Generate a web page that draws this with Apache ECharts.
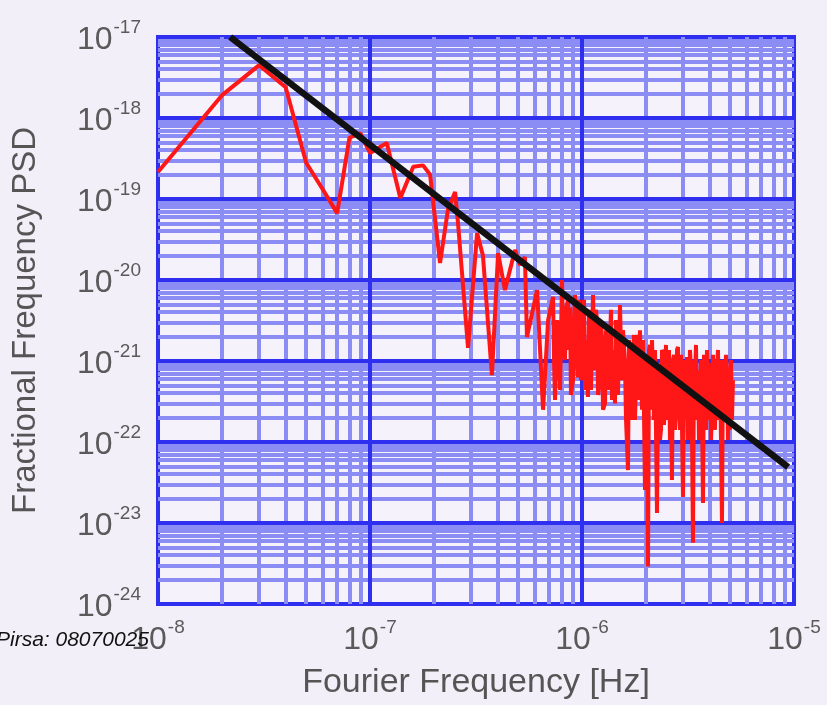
<!DOCTYPE html>
<html>
<head>
<meta charset="utf-8">
<script src="https://cdn.jsdelivr.net/npm/echarts@6/dist/echarts.min.js"></script>
<style>
  html, body { margin: 0; padding: 0; background: #f3eff9; }
  #chart { width: 827px; height: 705px; }
</style>
</head>
<body>
<div id="chart"></div>
<script>
// measured PSD (red trace): frequency [Hz] and fractional frequency PSD
const freqHz = [
  1.0e-8, 2.0e-8, 3.0e-8, 4.0e-8, 5.0e-8, 6.0e-8, 7.0e-8, 8.0e-8, 9.0e-8, 1.0e-7,
  1.1e-7, 1.2e-7, 1.39e-7, 1.60e-7, 1.78e-7, 1.92e-7, 2.14e-7, 2.33e-7, 2.52e-7, 2.60e-7,
  2.90e-7, 3.20e-7, 3.41e-7, 3.76e-7, 4.02e-7, 4.33e-7, 4.83e-7, 5.10e-7, 5.38e-7, 5.50e-7,
  6.14e-7, 6.55e-7, 6.92e-7,
  7.30e-7, 7.38e-7, 7.46e-7, 7.63e-7, 7.71e-7, 7.88e-7, 8.05e-7, 8.14e-7, 8.31e-7, 8.40e-7,
  8.59e-7, 8.68e-7, 8.78e-7, 8.87e-7, 9.07e-7, 9.17e-7, 9.27e-7, 9.37e-7, 9.57e-7, 9.68e-7,
  9.79e-7, 9.89e-7, 1.000e-6, 1.022e-6, 1.033e-6, 1.044e-6, 1.067e-6, 1.079e-6, 1.091e-6, 1.103e-6,
  1.127e-6, 1.139e-6, 1.152e-6, 1.164e-6, 1.177e-6, 1.190e-6, 1.216e-6, 1.229e-6, 1.243e-6, 1.256e-6,
  1.284e-6, 1.298e-6, 1.312e-6, 1.327e-6, 1.355e-6, 1.370e-6, 1.385e-6, 1.400e-6, 1.431e-6, 1.447e-6,
  1.462e-6, 1.478e-6, 1.511e-6, 1.528e-6, 1.544e-6, 1.561e-6, 1.595e-6, 1.613e-6, 1.648e-6, 1.666e-6,
  1.684e-6, 1.703e-6, 1.740e-6, 1.759e-6, 1.778e-6, 1.798e-6, 1.817e-6, 1.837e-6, 1.877e-6, 1.898e-6,
  1.919e-6, 1.940e-6, 1.982e-6, 2.004e-6, 2.026e-6, 2.048e-6, 2.070e-6, 2.093e-6, 2.116e-6, 2.139e-6,
  2.162e-6, 2.186e-6, 2.210e-6, 2.258e-6, 2.283e-6, 2.308e-6, 2.333e-6, 2.358e-6, 2.384e-6, 2.410e-6,
  2.436e-6, 2.463e-6, 2.490e-6, 2.517e-6, 2.545e-6, 2.572e-6, 2.600e-6, 2.629e-6, 2.657e-6, 2.686e-6,
  2.716e-6, 2.746e-6, 2.776e-6, 2.806e-6, 2.836e-6, 2.867e-6, 2.899e-6, 2.930e-6, 2.995e-6, 3.027e-6,
  3.060e-6, 3.094e-6, 3.128e-6, 3.162e-6, 3.196e-6, 3.231e-6, 3.267e-6, 3.302e-6, 3.338e-6, 3.375e-6,
  3.411e-6, 3.449e-6, 3.486e-6, 3.524e-6, 3.563e-6, 3.602e-6, 3.641e-6, 3.681e-6, 3.721e-6, 3.762e-6,
  3.803e-6, 3.844e-6, 3.886e-6, 3.929e-6, 3.972e-6, 4.015e-6, 4.059e-6, 4.103e-6, 4.148e-6, 4.193e-6,
  4.239e-6, 4.285e-6, 4.332e-6, 4.380e-6, 4.428e-6, 4.476e-6, 4.525e-6, 4.574e-6, 4.624e-6, 4.674e-6,
  4.725e-6, 4.777e-6, 4.829e-6, 4.882e-6, 4.935e-6, 4.989e-6, 5.044e-6, 5.099e-6, 5.154e-6
];
const psdValues = [
  2.15e-19, 1.9e-18, 4.5e-18, 2.4e-18, 2.8e-19, 1.3e-19, 6.7e-20, 5.7e-19, 6.5e-19, 3.7e-19,
  4.3e-19, 4.9e-19, 1.03e-19, 2.5e-19, 2.6e-19, 2.0e-19, 1.62e-20, 7.3e-20, 1.22e-19, 5.1e-20,
  1.45e-21, 3.8e-20, 2.0e-20, 6.7e-22, 2.15e-20, 7.5e-21, 2.35e-20, 1.53e-20, 1.92e-20, 1.98e-21,
  7.5e-21, 2.5e-22, 3.2e-21,
  6.2e-21, 1.03e-21, 3.3e-22, 3.2e-21, 2.4e-21, 4.4e-22, 1.0e-20, 1.82e-21, 1.03e-21, 4.3e-21,
  5.7e-21, 1.37e-21, 4.6e-21, 3.8e-22, 5.8e-22, 3.2e-21, 6.5e-21, 1.37e-21, 6.3e-22, 5.7e-21,
  3.2e-21, 5.8e-22, 2.6e-21, 5.7e-21, 4.4e-22, 1.82e-21, 3.6e-22, 4.3e-21, 2.4e-21, 4.4e-22,
  6.5e-21, 1.82e-21, 7.7e-22, 4.3e-21, 3.2e-21, 3.8e-22, 6.3e-22, 3.2e-21, 1.82e-21, 2.5e-22,
  3.0e-22, 2.4e-21, 2.4e-21, 4.4e-22, 1.67e-21, 4.3e-21, 3.3e-22, 1.37e-21, 3.0e-22, 3.2e-21,
  1.82e-21, 3.8e-22, 4.9e-21, 1.37e-21, 5.8e-22, 2.4e-21, 9.45e-22, 1.87e-22, 4.5e-23, 1.82e-21,
  1.37e-21, 1.87e-22, 9.45e-22, 2.1e-21, 1.87e-22, 5.8e-22, 2.1e-21, 3.3e-22, 2.4e-21, 7.7e-22,
  2.5e-22, 1.82e-21, 2.55e-23, 1.03e-21, 1.87e-22, 2.9e-24, 1.37e-21, 1.58e-21, 2.5e-22, 1.82e-21,
  5.8e-22, 1.87e-22, 1.37e-21, 1.33e-23, 3.3e-22, 8.9e-22, 1.06e-22, 1.41e-22, 1.37e-21, 1.26e-21,
  1.62e-22, 3.3e-22, 1.58e-21, 1.87e-22, 4.4e-22, 1.37e-21, 1.06e-22, 5.8e-22, 3.4e-23, 1.03e-21,
  1.19e-21, 1.41e-22, 2.5e-22, 1.37e-21, 1.49e-21, 3.3e-22, 1.41e-22, 1.19e-21, 2.1e-23, 5.8e-22,
  1.03e-21, 1.87e-22, 1.12e-21, 1.06e-22, 1.87e-22, 1.37e-21, 7.7e-22, 1.41e-22, 5.7e-24, 1.03e-21,
  5.8e-22, 1.58e-21, 1.87e-22, 7.7e-22, 1.06e-22, 1.41e-22, 1.03e-21, 2.5e-22, 1.77e-23, 1.19e-21,
  6.7e-22, 1.41e-22, 1.37e-21, 1.87e-22, 5.8e-22, 9.45e-22, 1.06e-22, 2.5e-22, 1.19e-21, 3.3e-22,
  1.41e-22, 1.03e-21, 7.7e-22, 1.37e-21, 1.87e-22, 1.03e-21, 1.06e-22, 1.0e-23, 1.03e-21, 8.9e-22,
  1.87e-22, 1.19e-21, 7.7e-22, 1.06e-22, 5.8e-22, 1.41e-22, 1.03e-21, 1.87e-22, 5.8e-22
];
// black f^-2 guide line end points
const fitFreq = [2.19e-8, 9.38e-6];
const fitPsd = [1.0e-17, 4.9e-23];

const xMin = 1e-8, xMax = 1e-5;
const yMin = 1e-24, yMax = 1e-17;

// echarts rounds tiny numbers to 0, so the y axis works in units of 1e-24
const yUnit = 1e-24;
const yUnitExp = -24;
const toY = v => v / yUnit;
const yLo = toY(yMin), yHi = toY(yMax);

// log grid lines: decades and 2..9 inside each decade
const majorX = [1e-7, 1e-6];
const majorY = [1e1, 1e2, 1e3, 1e4, 1e5, 1e6];
const minorX = [];
const minorY = [];
for (let d = -8; d < -5; d++) {
  for (let m = 2; m <= 9; m++) minorX.push(m * Math.pow(10, d));
}
for (let d = 0; d < 7; d++) {
  for (let m = 2; m <= 9; m++) minorY.push(m * Math.pow(10, d));
}
const vLine = v => [{ coord: [v, yLo] }, { coord: [v, yHi] }];
const hLine = v => [{ coord: [xMin, v] }, { coord: [xMax, v] }];

const font = "'Liberation Sans', Arial, sans-serif";
const majorColor = "#2f2ff0";
const minorColor = "#8c8cf5";

function powLabel(e) {
  return "{b|10}{s|" + e + "}";
}
const labelRich = {
  b: { fontSize: 32, fontFamily: font, color: "#5a5a5a", lineHeight: 38, verticalAlign: "bottom" },
  s: { fontSize: 19, fontFamily: font, color: "#5a5a5a", lineHeight: 38, verticalAlign: "top", padding: [0, 0, 0, 1] }
};

function gridSeries(lines, color, z) {
  return {
    type: "line",
    data: [],
    z: z,
    silent: true,
    markLine: {
      silent: true,
      symbol: ["none", "none"],
      label: { show: false },
      emphasis: { disabled: true },
      lineStyle: { color: color, width: 4, type: "solid" },
      data: lines
    }
  };
}

const chart = echarts.init(document.getElementById("chart"));
chart.setOption({
  animation: false,
  backgroundColor: "#f3eff9",
  grid: {
    left: 158,
    top: 37,
    right: 33,
    bottom: 101,
    show: true,
    backgroundColor: "#f5f2fc",
    borderColor: majorColor,
    borderWidth: 4
  },
  xAxis: {
    type: "log",
    logBase: 10,
    min: xMin,
    max: xMax,
    name: "Fourier Frequency [Hz]",
    nameLocation: "middle",
    nameGap: 62,
    nameTextStyle: { fontSize: 34, fontFamily: font, color: "#555" },
    axisLine: { show: false },
    axisTick: { show: false },
    axisLabel: {
      margin: 14,
      formatter: v => powLabel(Math.round(Math.log10(v))),
      rich: labelRich
    },
    splitLine: { show: false }
  },
  yAxis: {
    type: "log",
    logBase: 10,
    min: yLo,
    max: yHi,
    name: "Fractional Frequency PSD",
    nameLocation: "middle",
    nameGap: 116,
    nameTextStyle: { fontSize: 33, fontFamily: font, color: "#555" },
    axisLine: { show: false },
    axisTick: { show: false },
    axisLabel: {
      margin: 17,
      formatter: v => powLabel(Math.round(Math.log10(v)) + yUnitExp),
      rich: labelRich
    },
    splitLine: { show: false }
  },
  graphic: [
    {
      type: "text",
      left: -4,
      top: 630,
      z: 100,
      style: {
        text: "Pirsa: 08070025",
        fontSize: 21,
        fontStyle: "italic",
        fontFamily: font,
        fill: "#111"
      }
    }
  ],
  series: [
    gridSeries(minorX.map(vLine).concat(minorY.map(hLine)), minorColor, 1),
    gridSeries(majorX.map(vLine).concat(majorY.map(hLine)), majorColor, 2),
    {
      name: "PSD",
      type: "line",
      z: 5,
      showSymbol: false,
      data: freqHz.map((f, i) => [f, toY(psdValues[i])]),
      lineStyle: { color: "#ff1616", width: 4 },
      itemStyle: { color: "#ff1616" }
    },
    {
      name: "fit",
      type: "line",
      z: 6,
      showSymbol: false,
      data: fitFreq.map((f, i) => [f, toY(fitPsd[i])]),
      lineStyle: { color: "#111111", width: 6.5 },
      itemStyle: { color: "#111111" }
    }
  ]
});
</script>
</body>
</html>
